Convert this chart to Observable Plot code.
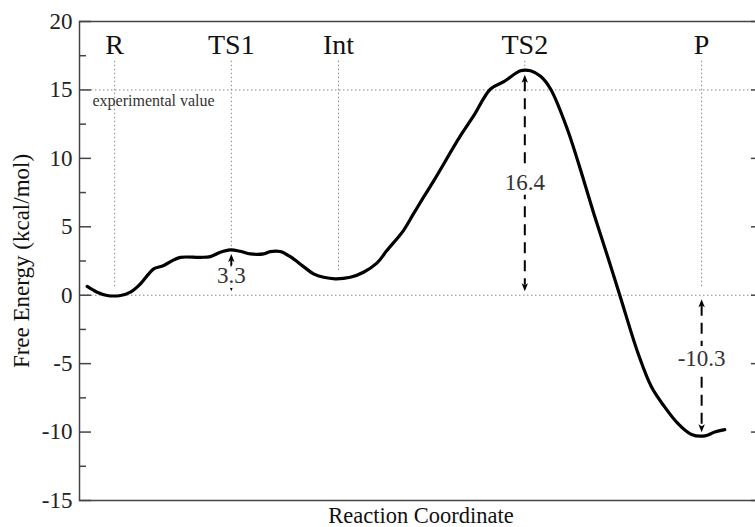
<!DOCTYPE html>
<html><head><meta charset="utf-8">
<script src="https://cdn.jsdelivr.net/npm/d3@7"></script>
<script src="https://cdn.jsdelivr.net/npm/@observablehq/plot@0.6"></script>
<style>body{margin:0;background:#fff} svg text{font-family:'Liberation Serif','DejaVu Serif',serif !important}</style>
</head><body><div id="chart"></div>
<script>
// Free-energy profile
const coordX = [1.14, 2.61, 4.09, 6.06, 7.53, 9.01, 10.24, 10.97, 12.45, 13.93, 14.92, 17.87, 19.35, 20.83, 22.30, 23.78, 25.26, 27.22, 28.21, 29.69, 31.17, 33.13, 34.61, 36.09, 37.81, 40.03, 42.0, 43.97, 45.45, 47.9, 49.38, 50.86, 52.4, 56.34, 58.3, 60.78, 62.75, 65.22, 66.7, 68.18, 69.66, 72.13, 74.58, 76.07, 78.19, 79.91, 82.62, 84.59, 86.56, 88.52, 90.5, 92.47, 93.94, 95.42];
const energy = [0.64, 0.22, -0.02, -0.02, 0.22, 0.83, 1.56, 1.93, 2.17, 2.58, 2.77, 2.77, 2.82, 3.14, 3.31, 3.21, 3.02, 3.02, 3.19, 3.19, 2.82, 2.09, 1.56, 1.31, 1.2, 1.31, 1.68, 2.34, 3.26, 4.72, 5.94, 7.15, 8.37, 11.66, 13.12, 15.07, 15.6, 16.4, 16.4, 16.0, 15.07, 12.15, 8.37, 5.94, 2.68, -0.02, -4.28, -6.71, -8.18, -9.39, -10.17, -10.28, -10.0, -9.82];

const stateNames = ["R", "TS1", "Int", "TS2", "P"];
const stateX = [5.2, 22.45, 38.3, 65.85, 92.0];
const guideTop = 17.1;
const guideBottom = [0.55, 3.3, 1.8, 16.45, 0.55];

const barrierState = ["TS1", "TS2", "P"];
const barrierValue = [3.3, 16.4, -10.3];
const barrierLabel = ["3.3", "16.4", "-10.3"];
const barrierLabelAt = [1.4, 8.2, -4.6];

const refLines = [0, 15];
const noteText = ["experimental value"];
const majorTicks = [-15, -10, -5, 0, 5, 10, 15, 20];
const minorTicks = [-12.5, -7.5, -2.5, 2.5, 7.5, 12.5, 17.5];

const curveData = coordX.map((x, i) => ({x, y: energy[i]}));
const states = stateNames.map((name, i) => ({name, x: stateX[i], bottom: guideBottom[i]}));
const barriers = barrierState.map((s, i) => ({
  x: stateX[stateNames.indexOf(s)],
  hi: Math.max(0, barrierValue[i]),
  lo: Math.min(0, barrierValue[i]),
  label: barrierLabel[i],
  at: barrierLabelAt[i]
}));

const g = 4;
const headUp = {draw(ctx) { ctx.moveTo(0, g); ctx.lineTo(3.2, g + 8); ctx.lineTo(0, g + 6); ctx.lineTo(-3.2, g + 8); ctx.closePath(); }};
const headDown = {draw(ctx) { ctx.moveTo(0, -g); ctx.lineTo(3.2, -g - 8); ctx.lineTo(0, -g - 6); ctx.lineTo(-3.2, -g - 8); ctx.closePath(); }};

const serif = "Liberation Serif";
const dotted = {stroke: "#888", strokeWidth: 1, strokeDasharray: "1.5,2.5"};

const chart = Plot.plot({
  width: 755,
  height: 527,
  marginLeft: 79,
  marginRight: -7,
  marginTop: 21,
  marginBottom: 27,
  style: {fontFamily: serif, background: "white", color: "#222"},
  x: {domain: [0, 101], axis: null},
  y: {domain: [-15, 20], axis: null},
  marks: [
    Plot.ruleY(refLines, {...dotted}),
    Plot.ruleX(states, {x: "x", y1: () => guideTop, y2: "bottom", ...dotted}),
    Plot.line(curveData, {x: "x", y: "y", curve: "catmull-rom", stroke: "black", strokeWidth: 3.2}),
    Plot.ruleX(barriers, {x: "x", y1: "hi", y2: "lo", insetTop: g + 6, insetBottom: g + 6, stroke: "black", strokeWidth: 2, strokeDasharray: "11,7"}),
    Plot.dot(barriers, {x: "x", y: "hi", symbol: headUp, r: 5, fill: "black", stroke: "none"}),
    Plot.dot(barriers, {x: "x", y: "lo", symbol: headDown, r: 5, fill: "black", stroke: "none"}),
    Plot.text(barriers, {x: "x", y: "at", text: "label", fontFamily: serif, fontSize: 23, fill: "#333", stroke: "white", strokeWidth: 10}),
    Plot.text(states, {x: "x", text: "name", frameAnchor: "top", lineAnchor: "middle", dy: 24, fontFamily: serif, fontSize: 28, fill: "#111"}),
    Plot.text(noteText, {x: () => 0, y: () => refLines[1], dx: 13, dy: 11, textAnchor: "start", fontFamily: serif, fontSize: 16, fill: "#333"}),
    Plot.frame({stroke: "#444", strokeWidth: 1.5}),
    Plot.axisY({anchor: "left", ticks: majorTicks, tickSize: -12, fill: "none", stroke: "#444", strokeWidth: 1.5, label: null}),
    Plot.axisY({anchor: "left", ticks: minorTicks, tickSize: -7, fill: "none", stroke: "#444", strokeWidth: 1.5, label: null}),
    Plot.axisY({anchor: "right", ticks: majorTicks, tickSize: -12, fill: "none", stroke: "#444", strokeWidth: 1.5, label: null}),
    Plot.axisY({anchor: "right", ticks: minorTicks, tickSize: -7, fill: "none", stroke: "#444", strokeWidth: 1.5, label: null}),
    Plot.axisY({anchor: "left", ticks: majorTicks, tickSize: 0, tickPadding: 7, tickFormat: d => String(d), fontFamily: serif, fontSize: 23, fill: "#222", label: null}),
    Plot.text(["Free Energy (kcal/mol)"], {frameAnchor: "left", textAnchor: "middle", lineAnchor: "middle", dx: -58, rotate: -90, fontFamily: serif, fontSize: 23, fill: "#111"}),
    Plot.text(["Reaction Coordinate"], {frameAnchor: "bottom", textAnchor: "middle", lineAnchor: "middle", dy: 15, fontFamily: serif, fontSize: 22.5, fill: "#111"})
  ]
});
document.getElementById("chart").append(chart);
</script>
</body></html>
